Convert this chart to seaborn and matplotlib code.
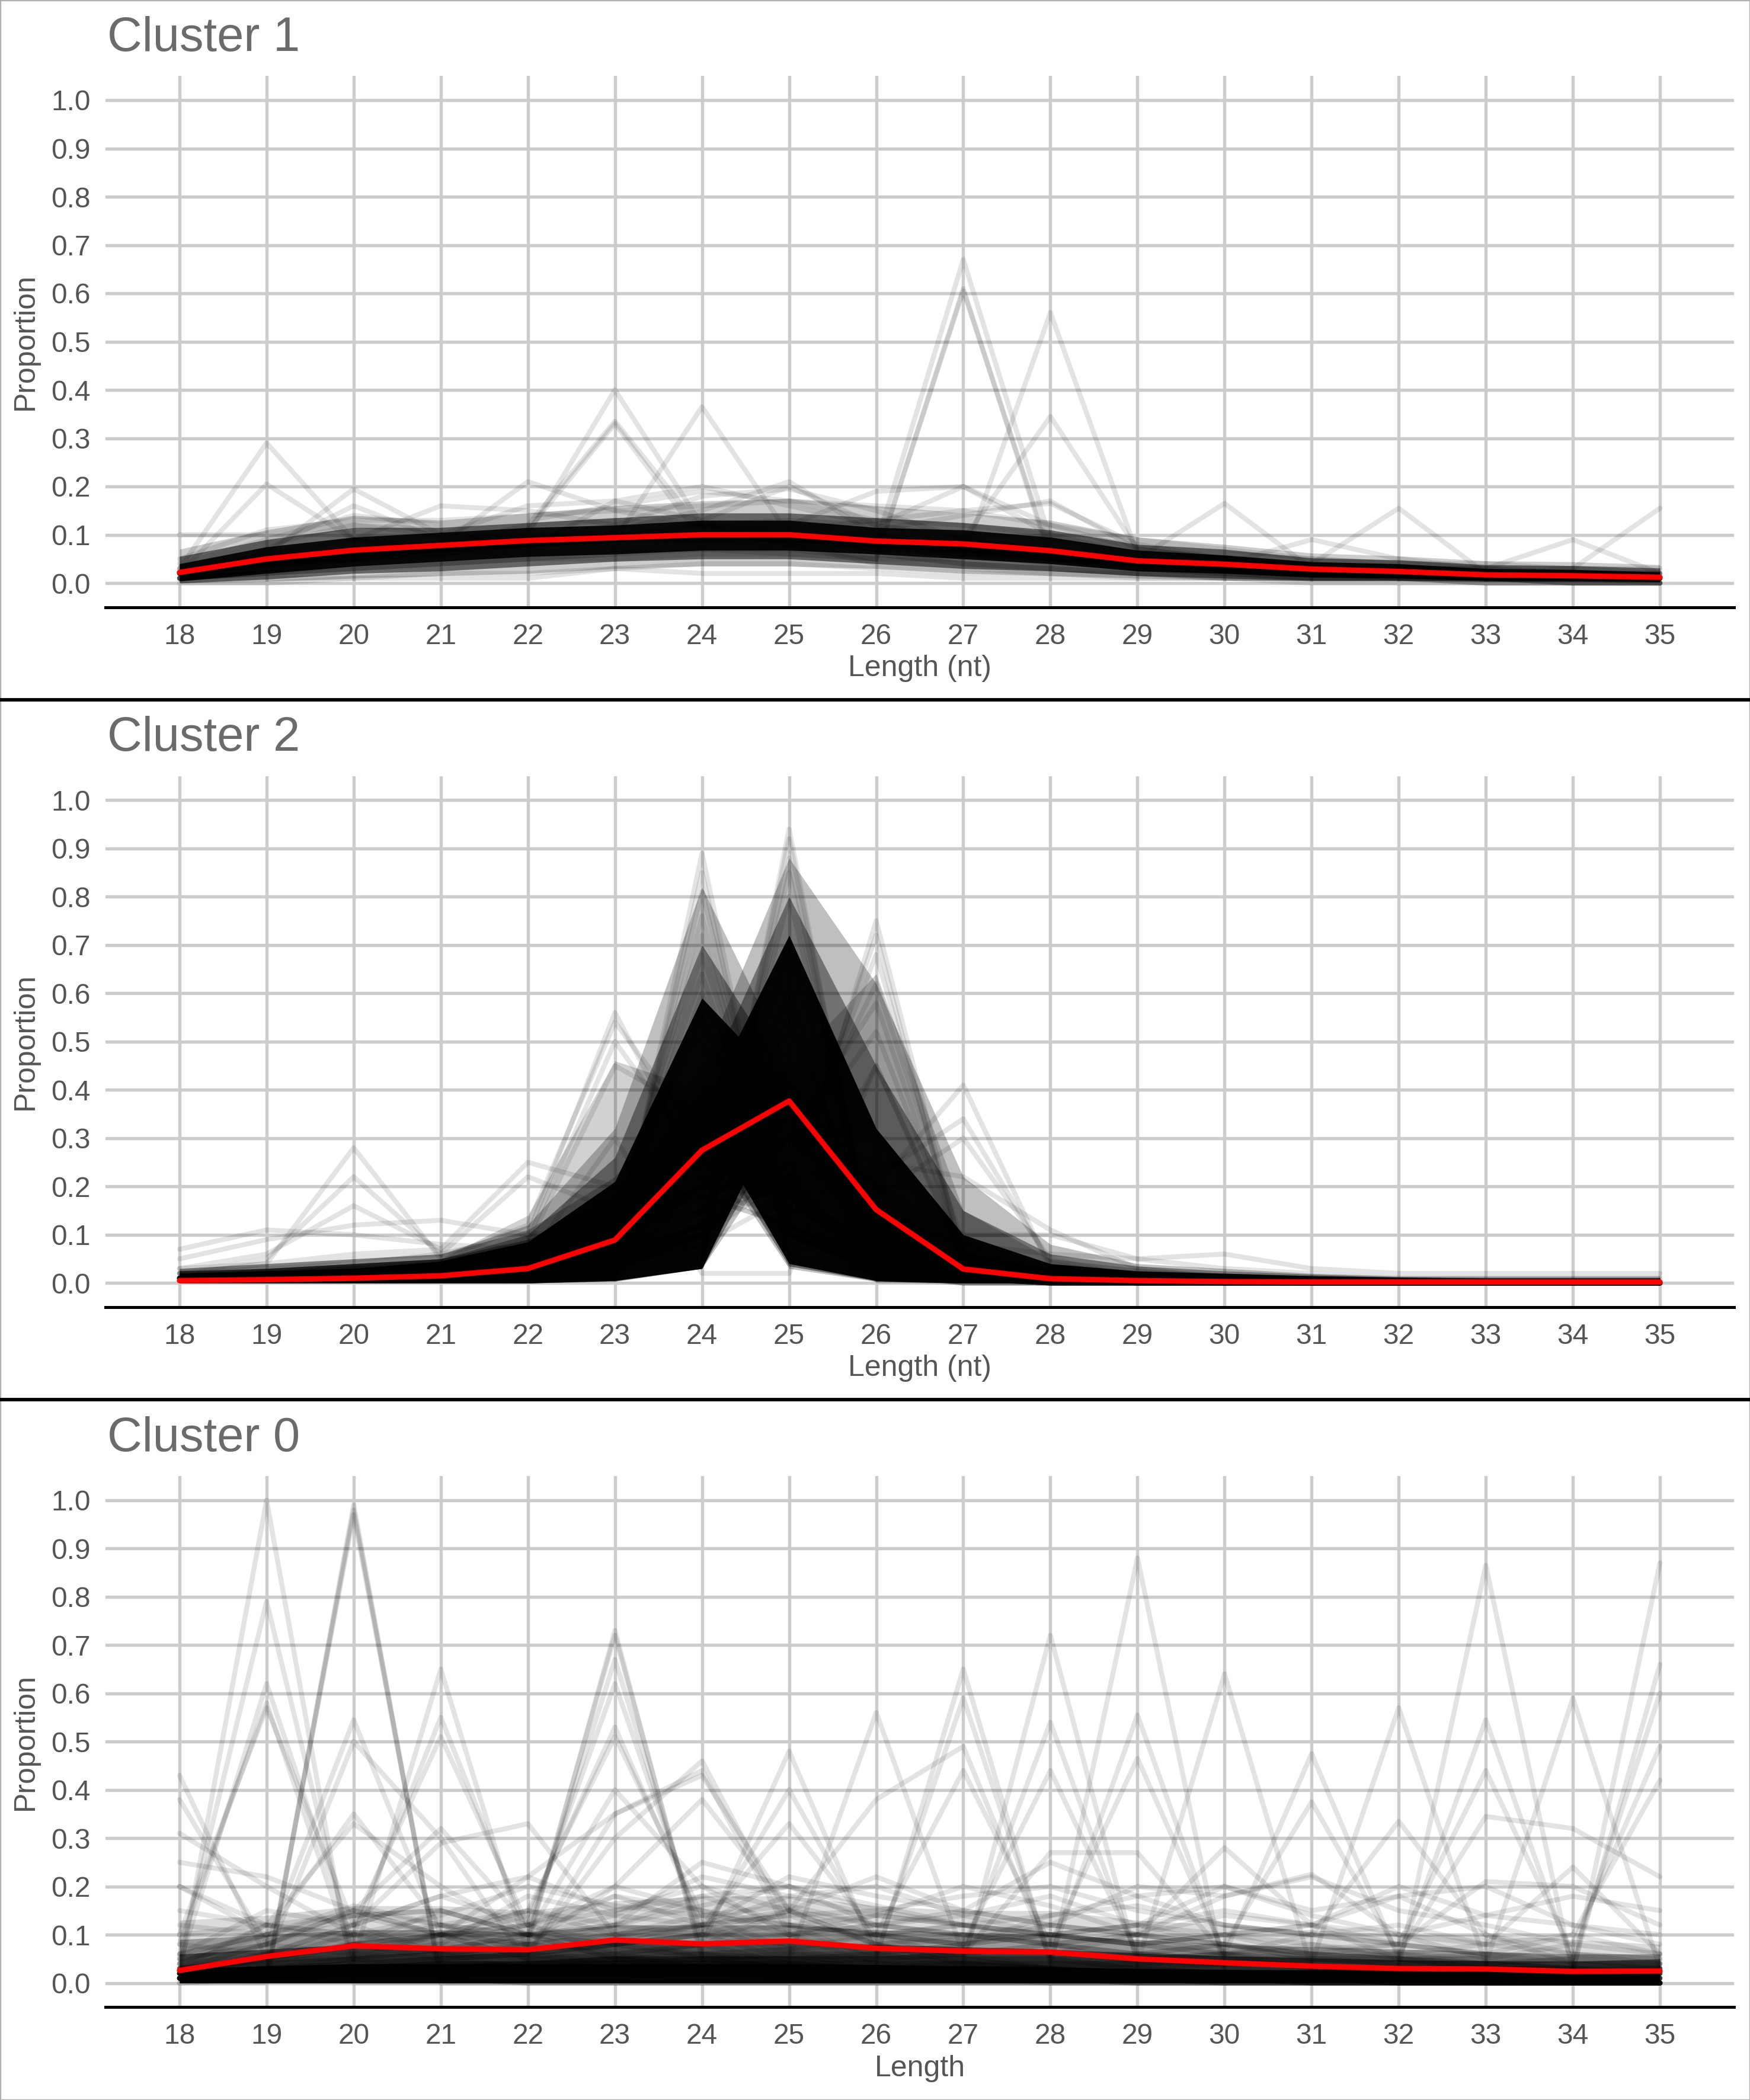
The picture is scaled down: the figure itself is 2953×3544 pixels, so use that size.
# Read-length profiles per cluster: faint sample lines, dense bundles and the cluster mean in red

import pandas as pd
import seaborn as sns
import matplotlib.pyplot as plt
from matplotlib.lines import Line2D
from matplotlib.patches import Rectangle


lengths = list(range(18, 36))
y_ticks = [0.0, 0.1, 0.2, 0.3, 0.4, 0.5, 0.6, 0.7, 0.8, 0.9, 1.0]
floor = [0.0] * 18

# ---------------- Cluster 1 ----------------
c1_mean = [0.022, 0.050, 0.068, 0.078, 0.088, 0.094, 0.100, 0.100, 0.087,
           0.081, 0.067, 0.046, 0.039, 0.029, 0.024, 0.017, 0.015, 0.012]

# dense bundle edges (lower, upper, darkness)
c1_bands = [
    ([0.0, 0.003, 0.01, 0.015, 0.02, 0.03, 0.035, 0.035, 0.03, 0.02, 0.015, 0.01, 0.006, 0.003, 0.003, 0.002, 0.002, 0.001],
     [0.07, 0.11, 0.14, 0.13, 0.145, 0.16, 0.17, 0.175, 0.16, 0.145, 0.13, 0.095, 0.08, 0.062, 0.056, 0.046, 0.044, 0.038], 0.2),
    ([0.0, 0.008, 0.02, 0.025, 0.035, 0.045, 0.05, 0.05, 0.04, 0.03, 0.025, 0.015, 0.01, 0.005, 0.005, 0.003, 0.003, 0.002],
     [0.055, 0.09, 0.115, 0.115, 0.125, 0.135, 0.145, 0.145, 0.135, 0.125, 0.11, 0.08, 0.07, 0.052, 0.048, 0.038, 0.036, 0.031], 0.5),
    ([0.004, 0.02, 0.035, 0.045, 0.055, 0.06, 0.068, 0.068, 0.06, 0.05, 0.04, 0.025, 0.02, 0.012, 0.01, 0.005, 0.005, 0.003],
     [0.04, 0.075, 0.095, 0.105, 0.115, 0.12, 0.13, 0.13, 0.115, 0.11, 0.095, 0.068, 0.058, 0.044, 0.04, 0.03, 0.028, 0.023], 0.9),
]

c1_lines = [
    [0.03, 0.29, 0.09, 0.08, 0.09, 0.09, 0.10, 0.10, 0.08, 0.07, 0.06, 0.04, 0.03, 0.02, 0.02, 0.01, 0.01, 0.01],
    [0.02, 0.205, 0.09, 0.07, 0.08, 0.09, 0.09, 0.10, 0.08, 0.07, 0.06, 0.04, 0.03, 0.02, 0.02, 0.02, 0.01, 0.01],
    [0.03, 0.06, 0.195, 0.10, 0.09, 0.10, 0.09, 0.09, 0.08, 0.07, 0.05, 0.04, 0.03, 0.02, 0.02, 0.02, 0.01, 0.01],
    [0.02, 0.07, 0.16, 0.09, 0.10, 0.09, 0.10, 0.09, 0.08, 0.07, 0.06, 0.04, 0.03, 0.02, 0.02, 0.01, 0.01, 0.01],
    [0.02, 0.06, 0.09, 0.16, 0.15, 0.12, 0.10, 0.09, 0.07, 0.06, 0.05, 0.03, 0.03, 0.02, 0.02, 0.01, 0.01, 0.01],
    [0.02, 0.05, 0.07, 0.08, 0.21, 0.15, 0.12, 0.10, 0.07, 0.06, 0.04, 0.03, 0.02, 0.02, 0.01, 0.01, 0.01, 0.01],
    [0.01, 0.03, 0.05, 0.07, 0.10, 0.40, 0.12, 0.08, 0.04, 0.03, 0.02, 0.01, 0.01, 0.01, 0.01, 0.00, 0.00, 0.00],
    [0.01, 0.04, 0.06, 0.08, 0.12, 0.335, 0.11, 0.08, 0.05, 0.04, 0.03, 0.02, 0.01, 0.01, 0.01, 0.00, 0.00, 0.00],
    [0.02, 0.04, 0.06, 0.08, 0.11, 0.33, 0.09, 0.07, 0.06, 0.04, 0.03, 0.02, 0.02, 0.01, 0.01, 0.01, 0.00, 0.00],
    [0.02, 0.04, 0.05, 0.06, 0.08, 0.09, 0.365, 0.10, 0.06, 0.04, 0.03, 0.02, 0.02, 0.01, 0.01, 0.01, 0.00, 0.00],
    [0.01, 0.03, 0.05, 0.07, 0.09, 0.11, 0.15, 0.21, 0.10, 0.07, 0.05, 0.03, 0.02, 0.01, 0.01, 0.01, 0.00, 0.00],
    [0.02, 0.04, 0.06, 0.08, 0.09, 0.12, 0.18, 0.195, 0.15, 0.09, 0.06, 0.04, 0.03, 0.02, 0.02, 0.01, 0.01, 0.01],
    [0.01, 0.03, 0.05, 0.07, 0.08, 0.10, 0.12, 0.12, 0.19, 0.20, 0.10, 0.06, 0.04, 0.03, 0.02, 0.01, 0.01, 0.01],
    [0.01, 0.02, 0.04, 0.05, 0.06, 0.07, 0.08, 0.08, 0.08, 0.67, 0.09, 0.05, 0.03, 0.02, 0.02, 0.01, 0.01, 0.01],
    [0.01, 0.02, 0.03, 0.04, 0.05, 0.06, 0.07, 0.07, 0.05, 0.61, 0.05, 0.03, 0.02, 0.01, 0.01, 0.01, 0.00, 0.00],
    [0.01, 0.02, 0.03, 0.04, 0.05, 0.06, 0.07, 0.06, 0.05, 0.605, 0.06, 0.03, 0.02, 0.02, 0.01, 0.01, 0.01, 0.00],
    [0.01, 0.02, 0.03, 0.04, 0.05, 0.05, 0.06, 0.06, 0.05, 0.05, 0.56, 0.06, 0.04, 0.02, 0.02, 0.01, 0.01, 0.01],
    [0.01, 0.03, 0.04, 0.05, 0.06, 0.07, 0.07, 0.07, 0.07, 0.09, 0.345, 0.07, 0.05, 0.03, 0.02, 0.02, 0.01, 0.01],
    [0.02, 0.04, 0.06, 0.07, 0.08, 0.09, 0.10, 0.12, 0.11, 0.14, 0.17, 0.07, 0.05, 0.03, 0.02, 0.02, 0.01, 0.01],
    [0.02, 0.04, 0.06, 0.07, 0.08, 0.09, 0.10, 0.11, 0.13, 0.15, 0.165, 0.08, 0.05, 0.03, 0.02, 0.02, 0.01, 0.01],
    [0.02, 0.04, 0.06, 0.07, 0.08, 0.10, 0.12, 0.13, 0.12, 0.20, 0.12, 0.07, 0.05, 0.03, 0.02, 0.02, 0.01, 0.01],
    [0.02, 0.04, 0.05, 0.06, 0.07, 0.08, 0.08, 0.08, 0.07, 0.06, 0.06, 0.05, 0.165, 0.03, 0.02, 0.02, 0.01, 0.01],
    [0.02, 0.04, 0.05, 0.06, 0.07, 0.08, 0.09, 0.08, 0.07, 0.06, 0.05, 0.04, 0.04, 0.04, 0.155, 0.02, 0.01, 0.01],
    [0.02, 0.04, 0.06, 0.07, 0.08, 0.09, 0.10, 0.09, 0.08, 0.06, 0.05, 0.04, 0.03, 0.03, 0.02, 0.02, 0.03, 0.155],
    [0.02, 0.04, 0.06, 0.07, 0.08, 0.09, 0.09, 0.09, 0.08, 0.07, 0.05, 0.04, 0.04, 0.03, 0.03, 0.03, 0.09, 0.02],
    [0.02, 0.05, 0.07, 0.07, 0.08, 0.09, 0.09, 0.09, 0.08, 0.07, 0.05, 0.04, 0.04, 0.09, 0.05, 0.03, 0.02, 0.02],
    [0.10, 0.10, 0.12, 0.11, 0.12, 0.13, 0.12, 0.11, 0.10, 0.09, 0.07, 0.06, 0.05, 0.04, 0.03, 0.03, 0.02, 0.02],
    [0.05, 0.11, 0.13, 0.13, 0.14, 0.15, 0.16, 0.17, 0.16, 0.15, 0.12, 0.09, 0.07, 0.05, 0.04, 0.03, 0.03, 0.02],
    [0.04, 0.09, 0.14, 0.12, 0.13, 0.16, 0.19, 0.17, 0.13, 0.12, 0.10, 0.08, 0.06, 0.05, 0.04, 0.04, 0.03, 0.03],
    [0.00, 0.00, 0.01, 0.01, 0.01, 0.03, 0.04, 0.04, 0.03, 0.02, 0.02, 0.02, 0.01, 0.01, 0.01, 0.00, 0.00, 0.00],
    [0.01, 0.01, 0.01, 0.02, 0.02, 0.03, 0.02, 0.02, 0.02, 0.01, 0.01, 0.01, 0.01, 0.00, 0.00, 0.00, 0.00, 0.00],
    [0.02, 0.04, 0.05, 0.06, 0.07, 0.17, 0.13, 0.20, 0.12, 0.09, 0.06, 0.04, 0.03, 0.02, 0.02, 0.01, 0.01, 0.01],
    [0.03, 0.08, 0.12, 0.10, 0.16, 0.17, 0.20, 0.16, 0.12, 0.10, 0.09, 0.07, 0.05, 0.04, 0.03, 0.03, 0.02, 0.02],
]

# ---------------- Cluster 2 ----------------
c2_mean = [0.005, 0.007, 0.010, 0.015, 0.030, 0.089, 0.275, 0.377, 0.152,
           0.029, 0.009, 0.005, 0.003, 0.002, 0.002, 0.002, 0.002, 0.002]

c2_bands = [
    # lines peaking at 23
    ([0.0, 0.0, 0.0, 0.0, 0.02, 0.10, 0.25, 0.15, 0.0, 0.0, 0.0, 0.0, 0.0, 0.0, 0.0, 0.0, 0.0, 0.0],
     [0.02, 0.03, 0.04, 0.05, 0.14, 0.46, 0.40, 0.25, 0.08, 0.02, 0.01, 0.01, 0.01, 0.01, 0.01, 0.01, 0.01, 0.01], 0.18),
    # lines peaking at 26
    ([0.0, 0.0, 0.0, 0.0, 0.0, 0.005, 0.20, 0.30, 0.30, 0.02, 0.0, 0.0, 0.0, 0.0, 0.0, 0.0, 0.0, 0.0],
     [0.02, 0.03, 0.04, 0.05, 0.08, 0.15, 0.30, 0.45, 0.64, 0.15, 0.05, 0.03, 0.02, 0.015, 0.01, 0.01, 0.01, 0.01], 0.2),
    # bundle peaking at 24, outer then inner
    ([0.0, 0.0, 0.0, 0.0, 0.0, 0.005, 0.30, 0.03, 0.003, 0.0, 0.0, 0.0, 0.0, 0.0, 0.0, 0.0, 0.0, 0.0],
     [0.03, 0.04, 0.05, 0.06, 0.12, 0.32, 0.82, 0.45, 0.22, 0.06, 0.03, 0.02, 0.015, 0.012, 0.01, 0.01, 0.01, 0.01], 0.25),
    ([0.0, 0.0, 0.0, 0.0, 0.0, 0.008, 0.32, 0.035, 0.004, 0.0, 0.0, 0.0, 0.0, 0.0, 0.0, 0.0, 0.0, 0.0],
     [0.025, 0.03, 0.04, 0.05, 0.10, 0.26, 0.70, 0.42, 0.18, 0.05, 0.025, 0.018, 0.014, 0.011, 0.009, 0.009, 0.009, 0.009], 0.4),
    # bundle peaking at 25, outer then inner
    ([0.0, 0.0, 0.0, 0.0, 0.0, 0.003, 0.03, 0.30, 0.003, 0.0, 0.0, 0.0, 0.0, 0.0, 0.0, 0.0, 0.0, 0.0],
     [0.03, 0.04, 0.05, 0.06, 0.11, 0.22, 0.45, 0.88, 0.62, 0.22, 0.08, 0.04, 0.03, 0.02, 0.015, 0.015, 0.015, 0.015], 0.25),
    ([0.0, 0.0, 0.0, 0.0, 0.0, 0.004, 0.03, 0.35, 0.004, 0.0, 0.0, 0.0, 0.0, 0.0, 0.0, 0.0, 0.0, 0.0],
     [0.025, 0.03, 0.04, 0.05, 0.09, 0.18, 0.40, 0.80, 0.45, 0.15, 0.06, 0.035, 0.025, 0.018, 0.013, 0.012, 0.012, 0.012], 0.4),
    # solid cores
    ([0.0, 0.0, 0.0, 0.0, 0.0, 0.01, 0.35, 0.04, 0.005, 0.0, 0.0, 0.0, 0.0, 0.0, 0.0, 0.0, 0.0, 0.0],
     [0.02, 0.025, 0.03, 0.045, 0.085, 0.21, 0.59, 0.40, 0.15, 0.04, 0.02, 0.015, 0.012, 0.01, 0.008, 0.008, 0.008, 0.008], 0.96),
    ([0.0, 0.0, 0.0, 0.0, 0.0, 0.005, 0.03, 0.40, 0.005, 0.0, 0.0, 0.0, 0.0, 0.0, 0.0, 0.0, 0.0, 0.0],
     [0.02, 0.025, 0.03, 0.045, 0.085, 0.16, 0.36, 0.72, 0.32, 0.10, 0.04, 0.025, 0.02, 0.015, 0.012, 0.01, 0.01, 0.01], 0.96),
]

c2_lines = [
    [0.02, 0.04, 0.28, 0.05, 0.06, 0.10, 0.20, 0.20, 0.03, 0.01, 0.01, 0.00, 0.00, 0.00, 0.00, 0.00, 0.00, 0.00],
    [0.02, 0.05, 0.22, 0.06, 0.05, 0.09, 0.25, 0.22, 0.04, 0.01, 0.00, 0.00, 0.00, 0.00, 0.00, 0.00, 0.00, 0.00],
    [0.03, 0.06, 0.16, 0.07, 0.06, 0.12, 0.22, 0.20, 0.06, 0.02, 0.01, 0.00, 0.00, 0.00, 0.00, 0.00, 0.00, 0.00],
    [0.07, 0.11, 0.10, 0.08, 0.07, 0.10, 0.25, 0.20, 0.05, 0.01, 0.01, 0.00, 0.00, 0.00, 0.00, 0.00, 0.00, 0.00],
    [0.05, 0.09, 0.12, 0.13, 0.10, 0.12, 0.20, 0.18, 0.05, 0.02, 0.01, 0.01, 0.00, 0.00, 0.00, 0.00, 0.00, 0.00],
    [0.03, 0.04, 0.06, 0.07, 0.25, 0.20, 0.18, 0.12, 0.03, 0.01, 0.01, 0.00, 0.00, 0.00, 0.00, 0.00, 0.00, 0.00],
    [0.02, 0.03, 0.05, 0.06, 0.22, 0.15, 0.25, 0.18, 0.04, 0.01, 0.00, 0.00, 0.00, 0.00, 0.00, 0.00, 0.00, 0.00],
    [0.02, 0.03, 0.04, 0.06, 0.10, 0.56, 0.22, 0.10, 0.03, 0.01, 0.01, 0.00, 0.00, 0.00, 0.00, 0.00, 0.00, 0.00],
    [0.01, 0.02, 0.03, 0.05, 0.12, 0.54, 0.30, 0.06, 0.02, 0.01, 0.00, 0.00, 0.00, 0.00, 0.00, 0.00, 0.00, 0.00],
    [0.01, 0.02, 0.03, 0.04, 0.09, 0.50, 0.25, 0.10, 0.03, 0.01, 0.00, 0.00, 0.00, 0.00, 0.00, 0.00, 0.00, 0.00],
    [0.01, 0.02, 0.03, 0.04, 0.08, 0.45, 0.35, 0.12, 0.02, 0.01, 0.00, 0.00, 0.00, 0.00, 0.00, 0.00, 0.00, 0.00],
    [0.01, 0.01, 0.02, 0.03, 0.05, 0.05, 0.89, 0.04, 0.01, 0.00, 0.00, 0.00, 0.00, 0.00, 0.00, 0.00, 0.00, 0.00],
    [0.01, 0.01, 0.02, 0.03, 0.05, 0.06, 0.85, 0.05, 0.02, 0.01, 0.00, 0.00, 0.00, 0.00, 0.00, 0.00, 0.00, 0.00],
    [0.01, 0.01, 0.02, 0.02, 0.04, 0.08, 0.81, 0.08, 0.02, 0.01, 0.00, 0.00, 0.00, 0.00, 0.00, 0.00, 0.00, 0.00],
    [0.01, 0.01, 0.02, 0.03, 0.04, 0.10, 0.76, 0.10, 0.02, 0.00, 0.00, 0.00, 0.00, 0.00, 0.00, 0.00, 0.00, 0.00],
    [0.01, 0.01, 0.02, 0.03, 0.05, 0.12, 0.72, 0.12, 0.03, 0.01, 0.00, 0.00, 0.00, 0.00, 0.00, 0.00, 0.00, 0.00],
    [0.01, 0.02, 0.02, 0.03, 0.05, 0.12, 0.68, 0.14, 0.03, 0.01, 0.00, 0.00, 0.00, 0.00, 0.00, 0.00, 0.00, 0.00],
    [0.01, 0.01, 0.01, 0.02, 0.03, 0.03, 0.04, 0.94, 0.02, 0.00, 0.00, 0.00, 0.00, 0.00, 0.00, 0.00, 0.00, 0.00],
    [0.01, 0.01, 0.01, 0.02, 0.03, 0.03, 0.05, 0.92, 0.03, 0.01, 0.00, 0.00, 0.00, 0.00, 0.00, 0.00, 0.00, 0.00],
    [0.01, 0.01, 0.01, 0.02, 0.03, 0.04, 0.06, 0.88, 0.04, 0.01, 0.00, 0.00, 0.00, 0.00, 0.00, 0.00, 0.00, 0.00],
    [0.01, 0.01, 0.01, 0.02, 0.03, 0.04, 0.08, 0.85, 0.05, 0.01, 0.00, 0.00, 0.00, 0.00, 0.00, 0.00, 0.00, 0.00],
    [0.01, 0.01, 0.02, 0.02, 0.03, 0.05, 0.10, 0.80, 0.06, 0.01, 0.00, 0.00, 0.00, 0.00, 0.00, 0.00, 0.00, 0.00],
    [0.01, 0.01, 0.01, 0.02, 0.03, 0.05, 0.18, 0.15, 0.75, 0.05, 0.02, 0.01, 0.00, 0.00, 0.00, 0.00, 0.00, 0.00],
    [0.01, 0.01, 0.01, 0.02, 0.03, 0.04, 0.15, 0.20, 0.72, 0.03, 0.01, 0.00, 0.00, 0.00, 0.00, 0.00, 0.00, 0.00],
    [0.01, 0.01, 0.01, 0.02, 0.03, 0.05, 0.12, 0.22, 0.68, 0.06, 0.01, 0.00, 0.00, 0.00, 0.00, 0.00, 0.00, 0.00],
    [0.01, 0.01, 0.01, 0.02, 0.03, 0.04, 0.10, 0.25, 0.62, 0.08, 0.02, 0.01, 0.00, 0.00, 0.00, 0.00, 0.00, 0.00],
    [0.01, 0.01, 0.01, 0.02, 0.03, 0.05, 0.12, 0.30, 0.58, 0.05, 0.01, 0.00, 0.00, 0.00, 0.00, 0.00, 0.00, 0.00],
    [0.01, 0.01, 0.01, 0.02, 0.03, 0.04, 0.10, 0.28, 0.52, 0.06, 0.02, 0.01, 0.00, 0.00, 0.00, 0.00, 0.00, 0.00],
    [0.01, 0.01, 0.01, 0.02, 0.02, 0.04, 0.08, 0.18, 0.20, 0.41, 0.03, 0.01, 0.00, 0.00, 0.00, 0.00, 0.00, 0.00],
    [0.01, 0.01, 0.01, 0.02, 0.02, 0.03, 0.10, 0.22, 0.22, 0.34, 0.04, 0.01, 0.00, 0.00, 0.00, 0.00, 0.00, 0.00],
    [0.01, 0.01, 0.01, 0.02, 0.02, 0.03, 0.12, 0.25, 0.18, 0.30, 0.05, 0.01, 0.00, 0.00, 0.00, 0.00, 0.00, 0.00],
    [0.01, 0.01, 0.01, 0.02, 0.03, 0.04, 0.10, 0.30, 0.25, 0.22, 0.11, 0.03, 0.01, 0.00, 0.00, 0.00, 0.00, 0.00],
    [0.01, 0.02, 0.02, 0.03, 0.04, 0.06, 0.15, 0.35, 0.20, 0.10, 0.10, 0.05, 0.03, 0.02, 0.01, 0.01, 0.01, 0.01],
    [0.02, 0.02, 0.03, 0.03, 0.04, 0.06, 0.20, 0.30, 0.15, 0.08, 0.06, 0.05, 0.06, 0.03, 0.02, 0.02, 0.02, 0.02],
    [0.01, 0.01, 0.02, 0.03, 0.05, 0.30, 0.02, 0.02, 0.45, 0.06, 0.02, 0.01, 0.00, 0.00, 0.00, 0.00, 0.00, 0.00],
    [0.01, 0.01, 0.02, 0.03, 0.05, 0.15, 0.55, 0.12, 0.05, 0.01, 0.00, 0.00, 0.00, 0.00, 0.00, 0.00, 0.00, 0.00],
    [0.01, 0.01, 0.02, 0.03, 0.05, 0.12, 0.15, 0.55, 0.08, 0.02, 0.00, 0.00, 0.00, 0.00, 0.00, 0.00, 0.00, 0.00],
    [0.01, 0.01, 0.02, 0.03, 0.05, 0.10, 0.60, 0.18, 0.02, 0.00, 0.00, 0.00, 0.00, 0.00, 0.00, 0.00, 0.00, 0.00],
    [0.01, 0.01, 0.02, 0.03, 0.05, 0.08, 0.20, 0.60, 0.03, 0.00, 0.00, 0.00, 0.00, 0.00, 0.00, 0.00, 0.00, 0.00],
    [0.01, 0.01, 0.02, 0.03, 0.05, 0.12, 0.64, 0.10, 0.03, 0.01, 0.00, 0.00, 0.00, 0.00, 0.00, 0.00, 0.00, 0.00],
    [0.01, 0.01, 0.02, 0.03, 0.04, 0.06, 0.12, 0.70, 0.10, 0.02, 0.00, 0.00, 0.00, 0.00, 0.00, 0.00, 0.00, 0.00],
    [0.01, 0.01, 0.02, 0.03, 0.05, 0.10, 0.35, 0.15, 0.10, 0.02, 0.01, 0.00, 0.00, 0.00, 0.00, 0.00, 0.00, 0.00],
    [0.01, 0.01, 0.02, 0.03, 0.05, 0.12, 0.18, 0.12, 0.45, 0.05, 0.01, 0.00, 0.00, 0.00, 0.00, 0.00, 0.00, 0.00],
]

# ---------------- Cluster 0 ----------------
c0_mean = [0.026, 0.055, 0.077, 0.071, 0.069, 0.089, 0.081, 0.087, 0.072,
           0.066, 0.064, 0.050, 0.042, 0.035, 0.030, 0.029, 0.024, 0.025]

c0_bands = [
    (floor, [0.13, 0.14, 0.16, 0.16, 0.15, 0.17, 0.18, 0.18, 0.16, 0.15, 0.15, 0.13, 0.12, 0.11, 0.10, 0.10, 0.09, 0.08], 0.14),
    (floor, [0.09, 0.10, 0.11, 0.11, 0.105, 0.12, 0.12, 0.12, 0.11, 0.105, 0.10, 0.09, 0.08, 0.075, 0.07, 0.065, 0.06, 0.06], 0.3),
    (floor, [0.06, 0.07, 0.08, 0.075, 0.075, 0.085, 0.085, 0.085, 0.08, 0.075, 0.07, 0.062, 0.056, 0.052, 0.048, 0.046, 0.045, 0.05], 0.5),
    (floor, [0.03, 0.035, 0.04, 0.04, 0.04, 0.04, 0.04, 0.04, 0.038, 0.035, 0.033, 0.03, 0.028, 0.027, 0.026, 0.027, 0.028, 0.032], 0.95),
]

c0_lines = [
    [0.02, 1.00, 0.00, 0.00, 0.00, 0.00, 0.00, 0.00, 0.00, 0.00, 0.00, 0.00, 0.00, 0.00, 0.00, 0.00, 0.00, 0.00],
    [0.05, 0.79, 0.05, 0.02, 0.02, 0.02, 0.01, 0.01, 0.01, 0.01, 0.00, 0.00, 0.00, 0.00, 0.00, 0.00, 0.00, 0.00],
    [0.04, 0.62, 0.08, 0.05, 0.03, 0.03, 0.02, 0.02, 0.02, 0.02, 0.02, 0.01, 0.01, 0.01, 0.01, 0.00, 0.00, 0.00],
    [0.10, 0.57, 0.12, 0.06, 0.03, 0.03, 0.02, 0.02, 0.01, 0.01, 0.01, 0.01, 0.00, 0.00, 0.00, 0.00, 0.00, 0.00],
    [0.08, 0.58, 0.05, 0.10, 0.05, 0.04, 0.02, 0.02, 0.02, 0.01, 0.01, 0.01, 0.01, 0.00, 0.00, 0.00, 0.00, 0.00],
    [0.00, 0.01, 0.98, 0.01, 0.00, 0.00, 0.00, 0.00, 0.00, 0.00, 0.00, 0.00, 0.00, 0.00, 0.00, 0.00, 0.00, 0.00],
    [0.00, 0.00, 0.99, 0.00, 0.00, 0.00, 0.00, 0.00, 0.00, 0.00, 0.00, 0.00, 0.00, 0.00, 0.00, 0.00, 0.00, 0.00],
    [0.01, 0.01, 0.97, 0.01, 0.00, 0.00, 0.00, 0.00, 0.00, 0.00, 0.00, 0.00, 0.00, 0.00, 0.00, 0.00, 0.00, 0.00],
    [0.03, 0.08, 0.545, 0.10, 0.05, 0.04, 0.03, 0.03, 0.02, 0.02, 0.02, 0.01, 0.01, 0.01, 0.00, 0.00, 0.00, 0.00],
    [0.02, 0.05, 0.50, 0.30, 0.04, 0.03, 0.02, 0.01, 0.01, 0.01, 0.01, 0.00, 0.00, 0.00, 0.00, 0.00, 0.00, 0.00],
    [0.06, 0.10, 0.35, 0.12, 0.06, 0.05, 0.04, 0.04, 0.03, 0.03, 0.02, 0.02, 0.02, 0.02, 0.01, 0.01, 0.01, 0.01],
    [0.04, 0.12, 0.33, 0.20, 0.10, 0.05, 0.03, 0.03, 0.02, 0.02, 0.02, 0.01, 0.01, 0.01, 0.01, 0.00, 0.00, 0.00],
    [0.02, 0.04, 0.05, 0.65, 0.06, 0.04, 0.03, 0.02, 0.02, 0.02, 0.01, 0.01, 0.01, 0.01, 0.01, 0.00, 0.00, 0.00],
    [0.03, 0.05, 0.10, 0.55, 0.10, 0.05, 0.03, 0.02, 0.02, 0.01, 0.01, 0.01, 0.01, 0.01, 0.00, 0.00, 0.00, 0.00],
    [0.02, 0.06, 0.12, 0.51, 0.12, 0.06, 0.03, 0.02, 0.02, 0.01, 0.01, 0.01, 0.01, 0.00, 0.00, 0.00, 0.00, 0.00],
    [0.05, 0.08, 0.15, 0.32, 0.12, 0.08, 0.05, 0.04, 0.03, 0.02, 0.02, 0.02, 0.01, 0.01, 0.01, 0.00, 0.00, 0.00],
    [0.04, 0.10, 0.12, 0.29, 0.33, 0.10, 0.05, 0.03, 0.02, 0.02, 0.01, 0.01, 0.01, 0.01, 0.00, 0.00, 0.00, 0.00],
    [0.02, 0.04, 0.06, 0.08, 0.08, 0.73, 0.05, 0.03, 0.02, 0.01, 0.01, 0.01, 0.00, 0.00, 0.00, 0.00, 0.00, 0.00],
    [0.02, 0.03, 0.05, 0.07, 0.09, 0.72, 0.06, 0.03, 0.02, 0.01, 0.01, 0.00, 0.00, 0.00, 0.00, 0.00, 0.00, 0.00],
    [0.01, 0.04, 0.05, 0.07, 0.10, 0.67, 0.08, 0.04, 0.02, 0.01, 0.01, 0.00, 0.00, 0.00, 0.00, 0.00, 0.00, 0.00],
    [0.02, 0.04, 0.06, 0.08, 0.12, 0.62, 0.10, 0.05, 0.03, 0.02, 0.01, 0.01, 0.00, 0.00, 0.00, 0.00, 0.00, 0.00],
    [0.03, 0.05, 0.07, 0.09, 0.14, 0.53, 0.12, 0.06, 0.03, 0.02, 0.01, 0.01, 0.01, 0.00, 0.00, 0.00, 0.00, 0.00],
    [0.03, 0.06, 0.08, 0.10, 0.15, 0.51, 0.14, 0.07, 0.04, 0.02, 0.02, 0.01, 0.01, 0.00, 0.00, 0.00, 0.00, 0.00],
    [0.03, 0.05, 0.08, 0.10, 0.10, 0.40, 0.20, 0.10, 0.06, 0.04, 0.03, 0.02, 0.01, 0.01, 0.01, 0.00, 0.00, 0.00],
    [0.02, 0.04, 0.06, 0.10, 0.22, 0.35, 0.43, 0.15, 0.08, 0.04, 0.02, 0.01, 0.01, 0.00, 0.00, 0.00, 0.00, 0.00],
    [0.43, 0.05, 0.05, 0.04, 0.03, 0.03, 0.03, 0.03, 0.03, 0.03, 0.03, 0.03, 0.03, 0.03, 0.03, 0.02, 0.02, 0.02],
    [0.38, 0.08, 0.06, 0.05, 0.04, 0.04, 0.04, 0.04, 0.03, 0.03, 0.03, 0.03, 0.02, 0.02, 0.02, 0.02, 0.02, 0.02],
    [0.31, 0.20, 0.10, 0.06, 0.05, 0.05, 0.04, 0.04, 0.03, 0.03, 0.02, 0.02, 0.02, 0.02, 0.02, 0.02, 0.02, 0.01],
    [0.25, 0.22, 0.15, 0.10, 0.08, 0.06, 0.04, 0.03, 0.02, 0.02, 0.02, 0.01, 0.01, 0.01, 0.01, 0.01, 0.01, 0.01],
    [0.20, 0.10, 0.15, 0.10, 0.08, 0.07, 0.06, 0.05, 0.04, 0.04, 0.03, 0.03, 0.02, 0.02, 0.02, 0.02, 0.01, 0.01],
    [0.20, 0.12, 0.14, 0.15, 0.10, 0.08, 0.06, 0.04, 0.03, 0.03, 0.02, 0.02, 0.01, 0.01, 0.01, 0.01, 0.00, 0.00],
    [0.02, 0.03, 0.04, 0.05, 0.06, 0.30, 0.46, 0.12, 0.05, 0.03, 0.02, 0.02, 0.01, 0.01, 0.01, 0.00, 0.00, 0.00],
    [0.02, 0.03, 0.04, 0.05, 0.06, 0.35, 0.44, 0.10, 0.04, 0.03, 0.02, 0.01, 0.01, 0.01, 0.00, 0.00, 0.00, 0.00],
    [0.02, 0.03, 0.04, 0.05, 0.08, 0.20, 0.38, 0.15, 0.08, 0.04, 0.03, 0.02, 0.01, 0.01, 0.00, 0.00, 0.00, 0.00],
    [0.02, 0.03, 0.04, 0.05, 0.06, 0.06, 0.08, 0.48, 0.06, 0.04, 0.03, 0.02, 0.02, 0.01, 0.01, 0.01, 0.00, 0.00],
    [0.02, 0.03, 0.04, 0.05, 0.06, 0.08, 0.10, 0.40, 0.08, 0.05, 0.03, 0.02, 0.02, 0.01, 0.01, 0.00, 0.00, 0.00],
    [0.03, 0.04, 0.05, 0.06, 0.07, 0.09, 0.12, 0.33, 0.10, 0.05, 0.03, 0.02, 0.01, 0.01, 0.00, 0.00, 0.00, 0.00],
    [0.02, 0.03, 0.03, 0.04, 0.05, 0.06, 0.06, 0.05, 0.56, 0.06, 0.03, 0.02, 0.01, 0.01, 0.01, 0.00, 0.00, 0.00],
    [0.01, 0.02, 0.03, 0.04, 0.04, 0.05, 0.08, 0.15, 0.38, 0.49, 0.05, 0.03, 0.02, 0.01, 0.00, 0.00, 0.00, 0.00],
    [0.01, 0.02, 0.03, 0.04, 0.04, 0.05, 0.05, 0.06, 0.05, 0.65, 0.04, 0.03, 0.02, 0.01, 0.00, 0.00, 0.00, 0.00],
    [0.01, 0.02, 0.03, 0.04, 0.04, 0.05, 0.05, 0.06, 0.06, 0.59, 0.05, 0.03, 0.02, 0.02, 0.01, 0.01, 0.00, 0.00],
    [0.02, 0.03, 0.03, 0.04, 0.05, 0.05, 0.06, 0.07, 0.10, 0.44, 0.08, 0.04, 0.03, 0.02, 0.01, 0.01, 0.01, 0.01],
    [0.01, 0.02, 0.02, 0.03, 0.03, 0.04, 0.04, 0.04, 0.04, 0.04, 0.72, 0.04, 0.03, 0.02, 0.01, 0.00, 0.00, 0.00],
    [0.01, 0.02, 0.03, 0.03, 0.04, 0.04, 0.05, 0.05, 0.05, 0.06, 0.54, 0.05, 0.04, 0.03, 0.02, 0.01, 0.01, 0.01],
    [0.02, 0.02, 0.03, 0.04, 0.04, 0.05, 0.05, 0.06, 0.06, 0.08, 0.44, 0.06, 0.05, 0.03, 0.02, 0.02, 0.01, 0.01],
    [0.01, 0.01, 0.02, 0.02, 0.02, 0.03, 0.03, 0.03, 0.03, 0.03, 0.03, 0.88, 0.02, 0.01, 0.01, 0.00, 0.00, 0.00],
    [0.01, 0.02, 0.02, 0.03, 0.03, 0.04, 0.04, 0.04, 0.04, 0.05, 0.05, 0.555, 0.05, 0.03, 0.02, 0.01, 0.01, 0.00],
    [0.01, 0.02, 0.03, 0.03, 0.04, 0.04, 0.05, 0.05, 0.05, 0.06, 0.08, 0.465, 0.06, 0.04, 0.02, 0.01, 0.01, 0.01],
    [0.01, 0.01, 0.02, 0.02, 0.02, 0.03, 0.03, 0.03, 0.03, 0.03, 0.04, 0.04, 0.64, 0.03, 0.02, 0.01, 0.01, 0.00],
    [0.02, 0.03, 0.03, 0.04, 0.04, 0.05, 0.05, 0.05, 0.05, 0.06, 0.08, 0.10, 0.28, 0.12, 0.05, 0.03, 0.01, 0.01],
    [0.01, 0.02, 0.02, 0.03, 0.03, 0.03, 0.04, 0.04, 0.04, 0.04, 0.04, 0.05, 0.06, 0.475, 0.05, 0.03, 0.02, 0.01],
    [0.01, 0.02, 0.02, 0.03, 0.03, 0.04, 0.04, 0.04, 0.05, 0.05, 0.05, 0.06, 0.08, 0.375, 0.06, 0.04, 0.03, 0.02],
    [0.02, 0.03, 0.03, 0.04, 0.04, 0.05, 0.05, 0.05, 0.05, 0.06, 0.06, 0.10, 0.18, 0.225, 0.10, 0.05, 0.03, 0.02],
    [0.01, 0.01, 0.02, 0.02, 0.03, 0.03, 0.03, 0.03, 0.03, 0.04, 0.04, 0.04, 0.04, 0.04, 0.57, 0.04, 0.03, 0.02],
    [0.01, 0.02, 0.02, 0.03, 0.03, 0.04, 0.04, 0.04, 0.04, 0.05, 0.05, 0.05, 0.06, 0.10, 0.335, 0.10, 0.04, 0.03],
    [0.01, 0.01, 0.01, 0.02, 0.02, 0.02, 0.02, 0.02, 0.02, 0.03, 0.03, 0.03, 0.03, 0.03, 0.03, 0.865, 0.02, 0.02],
    [0.01, 0.01, 0.02, 0.02, 0.03, 0.03, 0.03, 0.03, 0.03, 0.04, 0.04, 0.04, 0.04, 0.05, 0.05, 0.545, 0.04, 0.03],
    [0.01, 0.02, 0.02, 0.03, 0.03, 0.04, 0.04, 0.04, 0.04, 0.04, 0.05, 0.05, 0.05, 0.06, 0.08, 0.44, 0.06, 0.04],
    [0.01, 0.02, 0.02, 0.03, 0.03, 0.03, 0.04, 0.04, 0.04, 0.04, 0.04, 0.04, 0.05, 0.05, 0.06, 0.345, 0.32, 0.22],
    [0.01, 0.01, 0.02, 0.02, 0.02, 0.03, 0.03, 0.03, 0.03, 0.03, 0.03, 0.04, 0.04, 0.04, 0.04, 0.04, 0.59, 0.03],
    [0.02, 0.02, 0.03, 0.03, 0.04, 0.04, 0.04, 0.05, 0.05, 0.05, 0.05, 0.05, 0.06, 0.06, 0.06, 0.08, 0.24, 0.06],
    [0.01, 0.01, 0.01, 0.02, 0.02, 0.02, 0.02, 0.02, 0.02, 0.02, 0.02, 0.02, 0.02, 0.02, 0.02, 0.02, 0.02, 0.87],
    [0.01, 0.01, 0.02, 0.02, 0.02, 0.02, 0.02, 0.02, 0.02, 0.03, 0.03, 0.03, 0.03, 0.03, 0.03, 0.03, 0.03, 0.66],
    [0.01, 0.02, 0.02, 0.02, 0.03, 0.03, 0.03, 0.03, 0.03, 0.03, 0.03, 0.03, 0.04, 0.04, 0.04, 0.04, 0.05, 0.60],
    [0.01, 0.02, 0.02, 0.02, 0.03, 0.03, 0.03, 0.03, 0.03, 0.04, 0.04, 0.04, 0.04, 0.04, 0.05, 0.05, 0.08, 0.49],
    [0.02, 0.02, 0.02, 0.03, 0.03, 0.03, 0.04, 0.04, 0.04, 0.04, 0.04, 0.04, 0.05, 0.05, 0.05, 0.06, 0.10, 0.42],
    [0.02, 0.02, 0.03, 0.03, 0.04, 0.04, 0.05, 0.05, 0.05, 0.05, 0.06, 0.06, 0.06, 0.07, 0.08, 0.21, 0.20, 0.12],
    [0.02, 0.03, 0.03, 0.04, 0.04, 0.05, 0.05, 0.05, 0.06, 0.06, 0.27, 0.27, 0.06, 0.03, 0.02, 0.01, 0.01, 0.01],
    [0.12, 0.10, 0.14, 0.15, 0.10, 0.12, 0.25, 0.20, 0.15, 0.12, 0.10, 0.08, 0.06, 0.05, 0.04, 0.04, 0.03, 0.03],
    [0.06, 0.15, 0.12, 0.18, 0.22, 0.15, 0.18, 0.20, 0.12, 0.10, 0.08, 0.06, 0.05, 0.04, 0.03, 0.03, 0.02, 0.02],
    [0.03, 0.08, 0.15, 0.12, 0.10, 0.18, 0.12, 0.22, 0.18, 0.15, 0.12, 0.10, 0.08, 0.06, 0.05, 0.04, 0.03, 0.03],
    [0.02, 0.05, 0.08, 0.10, 0.12, 0.15, 0.20, 0.15, 0.22, 0.15, 0.12, 0.10, 0.08, 0.05, 0.04, 0.03, 0.03, 0.02],
    [0.01, 0.03, 0.05, 0.06, 0.08, 0.10, 0.12, 0.14, 0.15, 0.18, 0.20, 0.15, 0.12, 0.10, 0.08, 0.06, 0.05, 0.04],
    [0.02, 0.03, 0.04, 0.05, 0.06, 0.08, 0.10, 0.10, 0.12, 0.15, 0.25, 0.18, 0.20, 0.14, 0.10, 0.08, 0.06, 0.05],
    [0.01, 0.02, 0.03, 0.04, 0.05, 0.06, 0.08, 0.10, 0.12, 0.10, 0.12, 0.20, 0.18, 0.22, 0.15, 0.12, 0.08, 0.06],
    [0.01, 0.02, 0.03, 0.03, 0.04, 0.05, 0.06, 0.07, 0.08, 0.09, 0.10, 0.12, 0.20, 0.15, 0.18, 0.20, 0.12, 0.08],
    [0.01, 0.01, 0.02, 0.02, 0.03, 0.04, 0.05, 0.05, 0.06, 0.08, 0.10, 0.12, 0.15, 0.12, 0.20, 0.14, 0.18, 0.15],
    [0.10, 0.12, 0.08, 0.15, 0.10, 0.08, 0.12, 0.15, 0.10, 0.12, 0.10, 0.08, 0.10, 0.06, 0.05, 0.05, 0.04, 0.04],
    [0.05, 0.08, 0.14, 0.10, 0.15, 0.12, 0.18, 0.12, 0.10, 0.08, 0.12, 0.10, 0.06, 0.08, 0.05, 0.04, 0.05, 0.03],
    [0.08, 0.06, 0.12, 0.18, 0.12, 0.20, 0.15, 0.10, 0.14, 0.12, 0.08, 0.06, 0.08, 0.05, 0.04, 0.03, 0.03, 0.02],
    [0.03, 0.12, 0.10, 0.08, 0.18, 0.14, 0.12, 0.18, 0.20, 0.14, 0.10, 0.08, 0.06, 0.05, 0.04, 0.04, 0.03, 0.02],
    [0.02, 0.04, 0.08, 0.12, 0.10, 0.14, 0.22, 0.18, 0.14, 0.20, 0.16, 0.10, 0.08, 0.06, 0.05, 0.04, 0.03, 0.03],
    [0.01, 0.02, 0.04, 0.06, 0.08, 0.10, 0.14, 0.16, 0.12, 0.14, 0.18, 0.12, 0.10, 0.12, 0.08, 0.06, 0.04, 0.03],
    [0.02, 0.03, 0.05, 0.06, 0.05, 0.08, 0.10, 0.12, 0.14, 0.12, 0.14, 0.16, 0.12, 0.10, 0.12, 0.08, 0.10, 0.06],
    [0.15, 0.12, 0.10, 0.12, 0.15, 0.10, 0.12, 0.14, 0.08, 0.10, 0.08, 0.06, 0.05, 0.05, 0.04, 0.03, 0.02, 0.02],
    [0.04, 0.06, 0.10, 0.14, 0.20, 0.16, 0.14, 0.12, 0.10, 0.08, 0.10, 0.08, 0.10, 0.08, 0.06, 0.05, 0.04, 0.04],
    [0.06, 0.10, 0.16, 0.12, 0.08, 0.12, 0.16, 0.20, 0.16, 0.12, 0.10, 0.12, 0.08, 0.06, 0.05, 0.04, 0.04, 0.03],
    [0.02, 0.05, 0.07, 0.10, 0.12, 0.18, 0.15, 0.12, 0.10, 0.08, 0.14, 0.18, 0.12, 0.10, 0.08, 0.06, 0.05, 0.04],
    [0.01, 0.03, 0.05, 0.07, 0.10, 0.12, 0.10, 0.15, 0.12, 0.10, 0.08, 0.10, 0.14, 0.12, 0.18, 0.10, 0.06, 0.05],
    [0.01, 0.02, 0.03, 0.05, 0.06, 0.08, 0.10, 0.08, 0.10, 0.12, 0.10, 0.08, 0.10, 0.12, 0.10, 0.14, 0.12, 0.10],
]

panels = [
    ("Cluster 1", c1_bands, c1_lines, c1_mean, "Length (nt)"),
    ("Cluster 2", c2_bands, c2_lines, c2_mean, "Length (nt)"),
    ("Cluster 0", c0_bands, c0_lines, c0_mean, "Length"),
]


# turns a list of profiles into a long data frame for seaborn
def to_long(lines):
    rows = []
    for i, profile in enumerate(lines):
        for length, value in zip(lengths, profile):
            rows.append((i, length, value))
    return pd.DataFrame(rows, columns=["sample", "length", "proportion"])


sns.set_theme(style="whitegrid")
plt.rcParams["font.family"] = ["Liberation Sans", "DejaVu Sans"]

W, H = 2953, 3544
fig = plt.figure(figsize=(W / 300, H / 300), dpi=300)

panel_h = 1181.3
text_grey = "#555555"

for k, (title, bands, lines, mean, xlabel) in enumerate(panels):
    bottom_px = 1024.75 + k * panel_h
    ax = fig.add_axes([178 / W, 1 - bottom_px / H, 2748 / W, 896.5 / H])
    ax.set_axisbelow(True)

    for lo, hi, a in bands:
        ax.fill_between(lengths, lo, hi, color="black", alpha=a, lw=0, zorder=2)

    sns.lineplot(data=to_long(lines), x="length", y="proportion", units="sample",
                 estimator=None, color="black", alpha=0.11, lw=2.0, ax=ax,
                 legend=False, zorder=3)
    sns.lineplot(x=lengths, y=mean, color="#ff0000", lw=2.2, ax=ax, zorder=4)

    ax.set_xlim(17.15, 35.85)
    ax.set_ylim(-0.05, 1.05)
    ax.set_xticks(lengths)
    ax.set_yticks(y_ticks)
    ax.set_yticklabels([f"{t:.1f}" for t in y_ticks])
    ax.grid(True, color="#cccccc", lw=1.3)
    for side in ["top", "left", "right"]:
        ax.spines[side].set_visible(False)
    ax.spines["bottom"].set_color("black")
    ax.spines["bottom"].set_linewidth(1.2)
    ax.tick_params(axis="both", length=0, labelsize=11.5, colors=text_grey)
    ax.tick_params(axis="x", pad=6.5)
    ax.tick_params(axis="y", pad=6)
    ax.set_xlabel(xlabel, fontsize=12, color=text_grey, labelpad=2)
    ax.set_ylabel("Proportion", fontsize=12, color=text_grey, labelpad=5)

    fig.text(181 / W, 1 - (86 + k * panel_h) / H, title, fontsize=19.5,
             color="#6b6b6b", ha="left", va="baseline")

# panel frames
fig.add_artist(Rectangle((0, 0), 1, 1, transform=fig.transFigure, fill=False,
                         edgecolor="#b0b0b0", lw=0.8))
for y_px in [1180.5, 2361.5]:
    fig.add_artist(Line2D([0, 1], [1 - y_px / H, 1 - y_px / H],
                          transform=fig.transFigure, color="black", lw=1.4))

fig.savefig("out.png", dpi=300)
